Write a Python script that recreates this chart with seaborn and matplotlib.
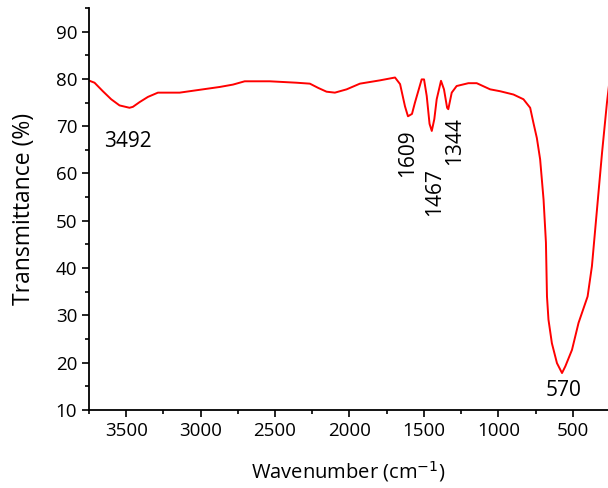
import matplotlib
matplotlib.use('Agg')
import matplotlib.pyplot as plt
import seaborn as sns
import pandas as pd
from matplotlib.ticker import MultipleLocator

# FTIR spectrum
wavenumber = [3754, 3713, 3657, 3601, 3545, 3478, 3455, 3410, 3354, 3287, 3141, 3074,
              2872, 2783, 2704, 2536, 2356, 2266, 2210, 2154, 2098, 2019, 1930, 1795,
              1694, 1660, 1627, 1607, 1580, 1560, 1515, 1499, 1481, 1462, 1447, 1430,
              1414, 1385, 1365, 1344, 1336, 1313, 1280, 1201, 1145, 1055, 988, 898,
              831, 786, 764, 741, 719, 696, 680, 673, 663, 640, 606, 572, 550, 505,
              461, 400, 371, 337, 303, 270, 255]
transmittance = [79.7, 79.2, 77.4, 75.7, 74.4, 73.9, 74.1, 75.1, 76.2, 77.1, 77.1, 77.4,
                 78.3, 78.8, 79.5, 79.5, 79.2, 79.0, 78.1, 77.3, 77.1, 77.8, 79.0, 79.7,
                 80.3, 78.9, 74.2, 72.1, 72.6, 75.0, 79.9, 79.9, 76.4, 70.5, 69.0, 71.5,
                 75.7, 79.6, 77.8, 73.9, 73.6, 77.1, 78.5, 79.1, 79.1, 77.8, 77.4, 76.7,
                 75.7, 73.9, 70.7, 67.5, 63.0, 54.5, 45.4, 34.0, 29.1, 24.1, 19.9, 17.8,
                 19.2, 22.7, 28.4, 34.0, 40.4, 52.4, 64.4, 75.0, 79.0]

peak_labels = ['3492', '1609', '1467', '1344', '570']
peak_x = [3491, 1607, 1425, 1297, 564]
peak_y = [66.8, 64.4, 56.0, 66.8, 14.2]
peak_rot = [0, 90, 90, 90, 0]

df = pd.DataFrame({'wavenumber': wavenumber, 'transmittance': transmittance})

sns.set_style('ticks')
plt.rcParams['font.family'] = ['Open Sans', 'DejaVu Sans']
plt.rcParams['text.color'] = 'black'
plt.rcParams['axes.labelcolor'] = 'black'
plt.rcParams['xtick.color'] = 'black'
plt.rcParams['ytick.color'] = 'black'

fig = plt.figure(figsize=(6.08, 4.88), dpi=100)
ax = fig.add_axes([0.1464, 0.160, 0.8536, 0.8236])
sns.lineplot(data=df, x='wavenumber', y='transmittance', color='#ff0000',
             linewidth=1.4, sort=False, ax=ax)

for lab, x, y, r in zip(peak_labels, peak_x, peak_y, peak_rot):
    ax.text(x, y, lab, rotation=r, ha='center', va='center', fontsize=15)

ax.set_xlim(3750, 263)
ax.set_ylim(10, 95)
ax.xaxis.set_major_locator(MultipleLocator(500))
ax.xaxis.set_minor_locator(MultipleLocator(250))
ax.yaxis.set_minor_locator(MultipleLocator(5))
ax.set_yticks(range(10, 100, 10))
ax.tick_params(axis='both', which='major', labelsize=13.5, length=5, width=1.2)
ax.tick_params(axis='both', which='minor', length=3, width=1.2)
for s in ['top', 'right']:
    ax.spines[s].set_visible(False)
for s in ['left', 'bottom']:
    ax.spines[s].set_linewidth(1.3)
    ax.spines[s].set_color('black')

ax.set_xlabel('Wavenumber (cm$^{-1}$)', fontsize=14.5, labelpad=14)
ax.set_ylabel('Transmittance (%)', fontsize=16.5, labelpad=14)

fig.savefig('out.png', dpi=100)
